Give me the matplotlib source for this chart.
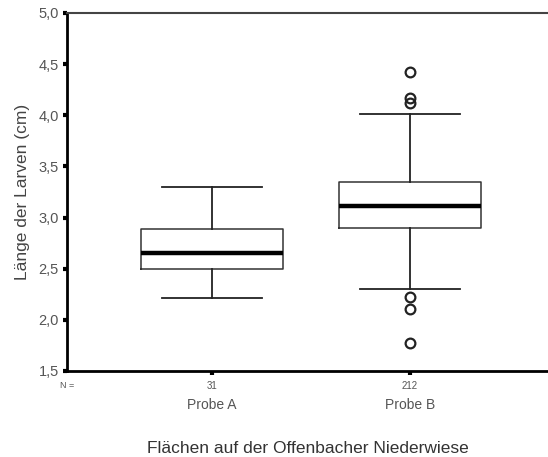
import matplotlib
matplotlib.use("Agg")
import matplotlib.pyplot as plt
from matplotlib.ticker import FuncFormatter

plt.rcParams['font.family'] = ['Liberation Sans', 'DejaVu Sans']

# Werte
gruppen = ["Probe A", "Probe B"]
anzahl = [31, 212]
q1 = [2.50, 2.90]
median = [2.65, 3.11]
q3 = [2.89, 3.35]
whisker_unten = [2.21, 2.30]
whisker_oben = [3.30, 4.01]
ausreisser = [[], [4.42, 4.17, 4.12, 2.22, 2.11, 1.77]]

stats = []
for i in range(len(gruppen)):
    stats.append({
        "label": gruppen[i],
        "q1": q1[i],
        "med": median[i],
        "q3": q3[i],
        "whislo": whisker_unten[i],
        "whishi": whisker_oben[i],
        "fliers": ausreisser[i],
    })

fig = plt.figure(figsize=(5.48, 4.57), dpi=100)
ax = fig.add_axes([67 / 548, 86 / 457, 481 / 548, 358 / 457])

pos = [1, 2]
ax.bxp(stats, positions=pos, widths=0.717, capwidths=0.51,
       boxprops=dict(color="#333333", linewidth=1.1),
       whiskerprops=dict(color="#222222", linewidth=1.3),
       capprops=dict(color="#222222", linewidth=1.3),
       medianprops=dict(color="black", linewidth=3.2),
       flierprops=dict(marker="o", markersize=7, markerfacecolor="none",
                       markeredgecolor="#222222", markeredgewidth=1.6))

ax.set_xlim(1 - 145 / 198, 2 + 138 / 198)
ax.set_ylim(1.5, 5.0)
ax.set_yticks([1.5, 2.0, 2.5, 3.0, 3.5, 4.0, 4.5, 5.0])
ax.yaxis.set_major_formatter(FuncFormatter(lambda v, p: f"{v:.1f}".replace(".", ",")))
ax.tick_params(axis="y", length=3, width=3, pad=3, labelsize=10.5, labelcolor="#555555")

ax.set_xticks(pos)
ax.set_xticklabels([str(n) for n in anzahl])
ax.tick_params(axis="x", length=3, width=3, pad=4, labelsize=7, labelcolor="#555555")

ax.spines["right"].set_visible(False)
ax.spines["left"].set_linewidth(2)
ax.spines["bottom"].set_linewidth(2)
ax.spines["top"].set_linewidth(1.5)
ax.spines["top"].set_color("#444444")

trans = ax.get_xaxis_transform()
ax.text(0.0, -0.04, "N =", transform=ax.transAxes, ha="center", va="center",
        fontsize=6.5, color="#555555")
for p, g in zip(pos, gruppen):
    ax.text(p, -0.095, g, transform=trans, ha="center", va="center",
            fontsize=10, color="#555555")

ax.set_ylabel("Länge der Larven (cm)", fontsize=12.5, color="#444444", labelpad=6)
ax.set_xlabel("Flächen auf der Offenbacher Niederwiese", fontsize=12.5,
              color="#333333", labelpad=36)

fig.savefig("out.png", dpi=100)
